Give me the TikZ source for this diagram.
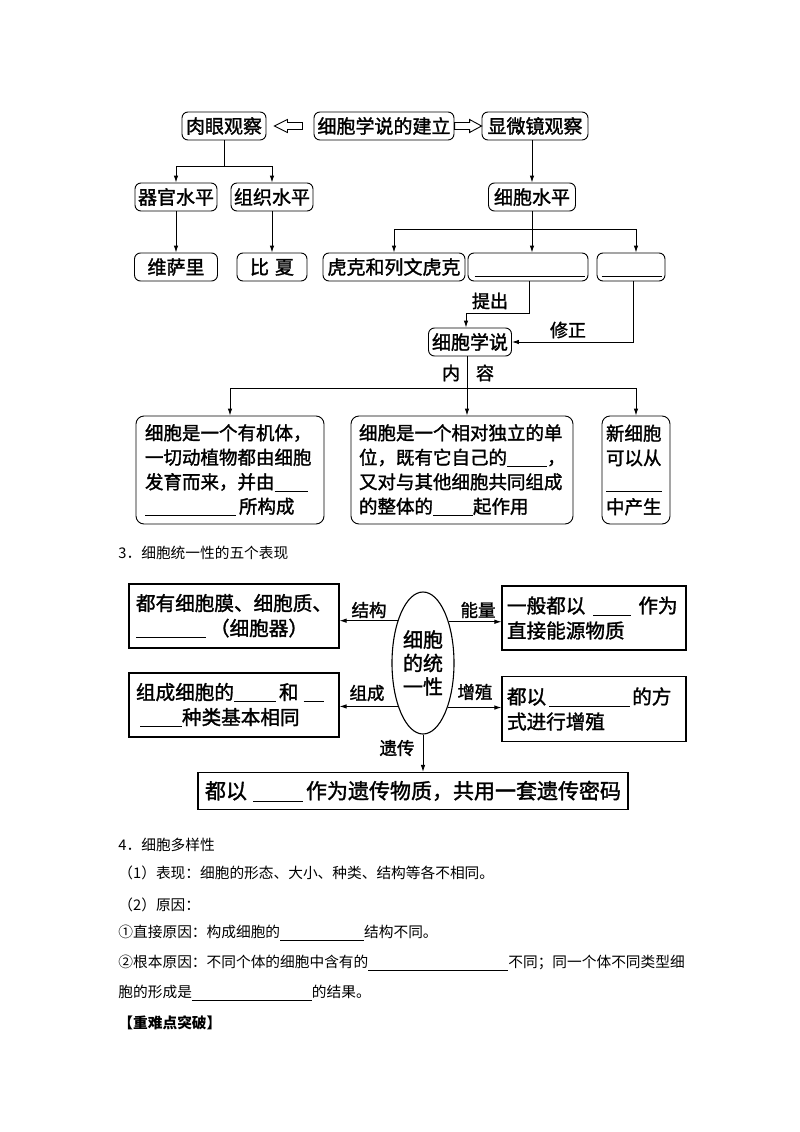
\documentclass[tikz,border=0pt]{standalone}
\usepackage{fontspec}
\newfontfamily\cjk{Noto Sans CJK SC}
\newfontfamily\cjkd[FakeBold=1.5]{Noto Sans CJK SC}
\usetikzlibrary{arrows.meta,shapes.geometric,calc}
\newcommand\gapline[1]{\rule[-2.5pt]{#1}{0.6pt}}
\tikzset{
  >={Latex[length=7pt,width=4.5pt]},
  rbox/.style={draw,rounded corners=6pt,inner sep=0pt,minimum height=28pt,font=\cjkd\fontsize{19}{22}\selectfont},
  cbox/.style={draw,rounded corners=8pt,inner ysep=0pt,align=left,minimum height=108pt,font=\cjkd\fontsize{18.5}{24.5}\selectfont},
  sbox/.style={draw,line width=1.1pt,inner ysep=0pt,align=left,font=\cjkd\fontsize{19.6}{25}\selectfont},
  lab/.style={inner sep=0pt,font=\cjkd\fontsize{18}{20}\selectfont},
  mlab/.style={inner sep=0pt,font=\cjkd\fontsize{17.5}{20}\selectfont},
  body/.style={anchor=west,inner sep=0pt,font=\cjk\fontsize{14.7}{17}\selectfont}
}
\begin{document}
\begin{tikzpicture}[x=1pt,y=-1pt,line width=0.9pt]
\fill[white] (0,0) rectangle (800,1132);
\useasboundingbox (0,0) rectangle (800,1132);
% 细胞学说的建立
\node[rbox,minimum width=84pt] (eye) at (224,126) {肉眼观察};
\node[rbox,minimum width=140pt] (est) at (384,126) {细胞学说的建立};
\node[rbox,minimum width=106pt] (micro) at (535,126) {显微镜观察};
% hollow arrows
\draw ([xshift=8pt]eye.east) -- ++(13,-6.5) -- ++(0,3) -- ++(15,0) -- ++(0,7) -- ++(-15,0) -- ++(0,3) -- cycle;
\draw (micro.west) -- ++(-12,-6.5) -- ++(0,3) -- ++(-15,0) -- ++(0,7) -- ++(15,0) -- ++(0,3) -- cycle;
\node[rbox,minimum width=82pt] (organ) at (176,197) {器官水平};
\node[rbox,minimum width=82pt] (tissue) at (272,197) {组织水平};
\node[rbox,minimum width=87pt] (cellLv) at (532,197) {细胞水平};
\node[rbox,minimum width=83pt] (vesal) at (176,267) {维萨里};
\node[rbox,minimum width=70pt] (bichat) at (272,267) {比\hspace{6pt}夏};
\node[rbox,minimum width=142pt] (hooke) at (394,267) {虎克和列文虎克};
\node[rbox,minimum width=120pt] (gapA) at (528,267) {};
\node[rbox,minimum width=68pt] (gapB) at (631,267) {};
\draw[line width=0.8pt] ([xshift=7pt,yshift=5pt]gapA.south west) -- ([xshift=-3pt,yshift=5pt]gapA.south east);
\draw[line width=0.8pt] ([xshift=5pt,yshift=5pt]gapB.south west) -- ([xshift=-3pt,yshift=5pt]gapB.south east);
\node[rbox,minimum width=83pt] (theory) at (470,342) {细胞学说};
\node[cbox,text width=170pt,inner xsep=9pt] (contA) at (230,470) {细胞是一个有机体，\\一切动植物都由细胞\\发育而来，并由\gapline{33pt}\\\gapline{91pt}\hspace{3pt}所构成};
\node[cbox,text width=206pt,inner xsep=8pt] (contB) at (462,470) {细胞是一个相对独立的单\\位，既有它自己的\gapline{40pt}\makebox[10pt][l]{，}\\又对与其他细胞共同组成\\的整体的\gapline{40pt}起作用};
\node[cbox,text width=60pt,inner xsep=4pt] (contC) at (636,470) {新细胞\\可以从\\\gapline{56pt}\\中产生};
\coordinate (j1) at (224,166);
\draw (eye) -- (j1);
\draw[->] (j1) -| (organ);
\draw[->] (j1) -| (tissue);
\draw[->] (organ) -- (vesal);
\draw[->] (tissue) -- (bichat);
\draw[->] (micro.south -| cellLv) -- (cellLv);
\coordinate (j2) at (532,229);
\draw (cellLv) -- (j2);
\draw[->] (j2) -| (hooke);
\draw[->] (j2) -- (gapA.north -| j2);
\draw[->] (j2) -| ([xshift=5pt]gapB.north);
\coordinate (k1) at (529,313);
\coordinate (k2) at (466,313);
\draw[->] (gapA.south -| k1) -- (k1) -- (k2) -- (k2 |- theory.north);
\node[lab] (tichu) at (490,301) {提出};
\coordinate (k3) at (633,342);
\draw[->] (gapB.south -| k3) -- (k3) -- (theory.east);
\node[lab] (xiuzheng) at (568,330) {修正};
\coordinate (j3) at (467,388);
\draw (theory.south -| j3) -- (j3);
\draw[->] (j3) -| (contA);
\draw[->] (j3) -- (j3 |- contB.north);
\draw[->] (j3) -| (contC);
\node[lab] (nei) at (451,373) {内};
\node[lab] (rong) at (485,373) {容};
% 细胞统一性
\node[body] (title3) at (118,553) {3．细胞统一性的五个表现};
\node[sbox,text width=196pt,inner xsep=7pt,minimum height=64pt] (L1) at (234,616) {都有细胞膜、细胞质、\\\gapline{70pt}\hspace{4pt}（细胞器）};
\node[sbox,text width=196pt,inner xsep=7pt,minimum height=64pt] (L2) at (234,705) {组成细胞的\gapline{42pt}\hspace{3pt}和\hspace{5pt}\gapline{20pt}\\\hspace{4pt}\gapline{42pt}种类基本相同};
\node[sbox,text width=174pt,inner xsep=5pt,minimum height=64pt] (R1) at (594,618) {一般都以\hspace{8pt}\gapline{38pt}\hspace{7pt}作为\\直接能源物质};
\node[sbox,text width=174pt,inner xsep=5pt,minimum height=65pt] (R2) at (594,709) {都以\hspace{3pt}\gapline{81pt}\hspace{2pt}的方\\式进行增殖};
\node[draw,ellipse,line width=1.1pt,minimum width=62pt,minimum height=142pt,inner sep=0pt,align=center,font=\cjkd\fontsize{20}{23.5}\selectfont] (ell) at (423,663) {细胞\\的统\\一性};
\node[sbox,text width=416pt,inner xsep=7pt,minimum height=37pt,font=\cjkd\fontsize{21}{25}\selectfont] (bot) at (413,791) {都以\hspace{6pt}\gapline{50pt}\hspace{3pt}作为遗传物质，共用一套遗传密码};
\draw[->] (ell.121.7) -- (ell.121.7 -| L1.east);
\draw[->] (ell.58.3) -- (ell.58.3 -| R1.west);
\draw[->] (ell.240.2) -- (ell.240.2 -| L2.east);
\draw[->] (ell.299.8) -- (ell.299.8 -| R2.west);
\draw[->] (ell.south) -- (ell.south |- bot.north);
\node[mlab] (jiegou) at (369,610) {结构};
\node[mlab] (nengliang) at (478,610) {能量};
\node[mlab] (zucheng) at (367,693) {组成};
\node[mlab] (zengzhi) at (475,692) {增殖};
\node[mlab] (yichuan) at (397,748) {遗传};
% 细胞多样性
\node[body] (title4) at (118,845) {4．细胞多样性};
\node[body] (biao) at (118,873) {（1）表现：细胞的形态、大小、种类、结构等各不相同。};
\node[body] (yuan) at (118,905) {（2）原因：};
\node[body] (zhi) at (118,933) {①直接原因：构成细胞的\gapline{84pt}结构不同。};
\node[body] (gen) at (118,963) {②根本原因：不同个体的细胞中含有的\gapline{140pt}不同；同一个体不同类型细};
\node[body] (gen2) at (118,993) {胞的形成是\gapline{120pt}的结果。};
\node[body,font=\cjk\bfseries\fontsize{14.7}{17}\selectfont] (tupo) at (118,1023) {【重难点突破】};
\end{tikzpicture}
\end{document}
